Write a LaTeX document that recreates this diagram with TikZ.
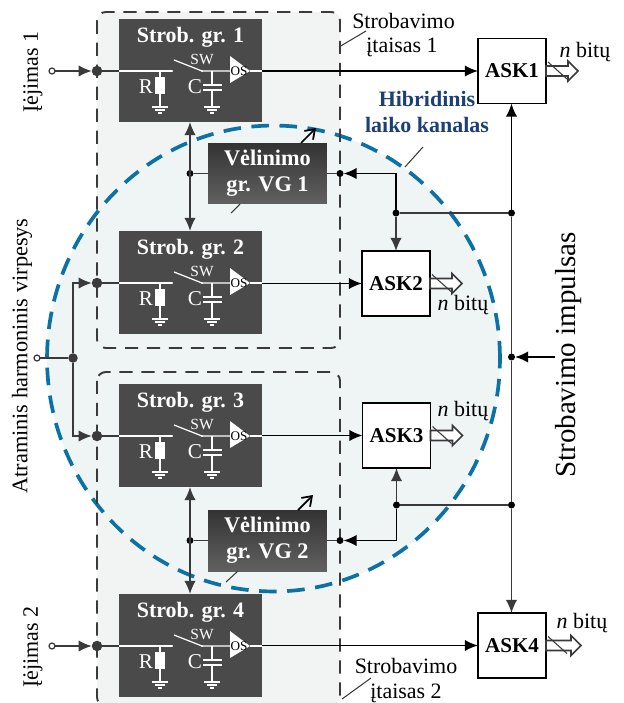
\documentclass[tikz,border=0pt]{standalone}
\usepackage{fontspec}
\setmainfont{Liberation Serif}
\usetikzlibrary{arrows.meta}
\definecolor{boxgray}{HTML}{4A4A4A}
\definecolor{linegray}{HTML}{3A3A3A}
\definecolor{devfill}{HTML}{F2F3F3}
\definecolor{hybfill}{HTML}{EFF4F5}
\definecolor{hybblue}{HTML}{0B72A6}
\definecolor{hybtext}{HTML}{1B3F77}
\tikzset{
  x=0.02cm, y=-0.02cm,
  every node/.style={inner sep=0pt, outer sep=0pt},
  devback/.style={fill=devfill, rounded corners=5pt},
  device/.style={draw=linegray, line width=1.1pt, dash pattern=on 7.5pt off 5pt, rounded corners=5pt},
  hybrid/.style={draw=hybblue, fill=hybfill, line width=2.1pt, dash pattern=on 10pt off 6pt},
  strobbox/.style={draw=none, fill=boxgray, minimum width=2.86cm, minimum height=2.06cm},
  delaybox/.style={draw=none, top color=black!80, bottom color=black!62, minimum width=2.38cm, minimum height=1.22cm, align=center, text=white, font=\fontsize{12.7}{15}\selectfont\bfseries},
  askbox/.style={draw=black, fill=white, line width=0.9pt, minimum width=1.36cm, minimum height=1.3cm, font=\fontsize{12}{13}\selectfont\bfseries},
  wire/.style={draw=linegray, line width=0.9pt},
  sig/.style={draw=black, line width=1pt},
  arr/.style={-{Latex[length=7.5pt,width=6.5pt]}},
  barr/.style={{Latex[length=7.5pt,width=6.5pt]}-{Latex[length=7.5pt,width=6.5pt]}},
  inner/.style={draw=white, line width=0.7pt},
  dotbig/.style={circle, fill=linegray, minimum size=0.21cm},
  dotsmall/.style={circle, fill=black, minimum size=0.14cm},
  opendot/.style={circle, draw=linegray, fill=white, line width=0.7pt, minimum size=0.12cm},
  lbl/.style={font=\fontsize{12.5}{14}\selectfont},
  lead/.style={draw=linegray, line width=0.6pt},
  bits/.style={draw=linegray, fill=white, line width=0.9pt},
}
% one strobing group, #1 name, #2 top of box, #3 number, #4 signal line
\newcommand{\strobgr}[4]{
  \node [strobbox] (#1) at (190.5, #2+51.5) {};
  \node [text=white, font=\fontsize{12.5}{14}\selectfont\bfseries] (#1t) at (190.5, #2+18) {Strob. gr. #3};
  \begin{scope}[yshift={-0.02cm*(#4)}]
    \draw [inner] (#1.west |- 0, 0) -- (172, 0);
    \draw [inner] (174, -11) -- (202, 0) -- (230, 0);
    \fill [white] (172, 0) circle (1.2);
    \fill [white] (202, 0) circle (1.2);
    \draw [inner] (160, 0) -- (160, 35);
    \node [fill=white, minimum width=0.2cm, minimum height=0.34cm] (#1r) at (160, 14.5) {};
    \draw [inner] (212, 0) -- (212, 14) (203, 14) -- (222, 14) (203, 19) -- (222, 19) (212, 19) -- (212, 35);
    \foreach \gx in {160, 212} {
      \draw [inner] (\gx-8, 36) -- (\gx+8, 36) (\gx-5, 39) -- (\gx+5, 39) (\gx-2, 42) -- (\gx+2, 42);
    }
    \node [text=white, font=\fontsize{12}{12}\selectfont] (#1rl) at (146, 15.5) {R};
    \node [text=white, font=\fontsize{12}{12}\selectfont] (#1cl) at (195, 15.5) {C};
    \node [text=white, font=\fontsize{8.8}{10}\selectfont] (#1sw) at (202, -12) {SW};
    \fill [white] (230, -15) -- (250, 0) -- (230, 12) -- cycle;
    \draw [inner] (250, 0) -- (262, 0);
    \node [text=black, font=\fontsize{7.5}{7}\selectfont] (#1os) at (239, 0) {OS};
  \end{scope}
}
% hollow output arrow, #1 name, #2 box, #3 length
\newcommand{\bitarrow}[3]{
  \coordinate (#1) at (#2.east);
  \draw [bits, shift={(#1)}] (0, -5) -- (#3-10, -5) -- (#3-10, -10) -- (#3, 0) -- (#3-10, 10) -- (#3-10, 5) -- (0, 5) -- cycle;
  \draw [lead, shift={(#1)}] (2, -9) -- (21, 8);
}
\begin{document}
\begin{tikzpicture}
  \useasboundingbox (0, 0) rectangle (623, 703);
  \clip (0, 0) rectangle (623, 703);
  \fill [devback] (97, 12) rectangle (340, 348);
  \fill [devback] (97, 372) rectangle (340, 706);
  \draw [hybrid] (273.5, 358.5) ellipse [x radius=4.53cm, y radius=4.66cm];
  \draw [device] (97, 12) rectangle (340, 348);
  \draw [device] (97, 372) rectangle (340, 706);
  \strobgr{sg1}{19}{1}{71}
  \strobgr{sg2}{231}{2}{283}
  \strobgr{sg3}{384}{3}{436}
  \strobgr{sg4}{594}{4}{646}
  \node [delaybox] (vg1) at (267.5, 173.5) {Vėlinimo\\gr. VG 1};
  \node [delaybox] (vg2) at (267.5, 540.5) {Vėlinimo\\gr. VG 2};
  \node [askbox] (ask1) at (512, 71) {ASK1};
  \node [askbox] (ask2) at (396, 283.5) {ASK2};
  \node [askbox] (ask3) at (396.5, 435.5) {ASK3};
  \node [askbox] (ask4) at (512, 645.5) {ASK4};
  % inputs
  \node [opendot] (in1) at (52, 71) {};
  \node [opendot] (in2) at (52, 646) {};
  \node [opendot] (in0) at (37, 358) {};
  \node [dotbig] (j1) at (97, 71) {};
  \node [dotbig] (j2) at (97, 283) {};
  \node [dotbig] (j3) at (97, 436) {};
  \node [dotbig] (j4) at (97, 646) {};
  \node [circle, fill=linegray, minimum size=0.19cm] (j0) at (73, 358) {};
  \coordinate (t2) at (73, 283);
  \coordinate (t3) at (73, 436);
  \draw [wire, arr] (in1) -- (j1);
  \draw [wire, arr] (in2) -- (j4);
  \draw [wire] (in0) -- (j0);
  \draw [wire, arr] (j0) -- (t2) -- (j2);
  \draw [wire, arr] (j0) -- (t3) -- (j3);
  \draw [wire] (j1) -- (sg1.west |- j1);
  \draw [wire] (j2) -- (sg2.west |- j2);
  \draw [wire] (j3) -- (sg3.west |- j3);
  \draw [wire] (j4) -- (sg4.west |- j4);
  % outputs
  \draw [sig, arr] (sg1.east |- ask1) -- (ask1);
  \draw [sig, arr] (sg2.east |- ask2) -- (ask2);
  \draw [sig, arr] (sg3.east |- ask3) -- (ask3);
  \draw [sig, arr] (sg4.east |- ask4) -- (ask4);
  \bitarrow{b1}{ask1}{32}
  \bitarrow{b2}{ask2}{32}
  \bitarrow{b3}{ask3}{32}
  \bitarrow{b4}{ask4}{35}
  % delay groups
  \node [dotsmall] (d1l) at (190, 173.5) {};
  \node [dotsmall] (d1r) at (340, 173.5) {};
  \node [dotsmall] (d2l) at (190, 540.5) {};
  \node [dotsmall] (d2r) at (340, 540.5) {};
  \draw [wire, barr] (sg1.south -| d1l) -- (sg2.north -| d1l);
  \draw [wire, barr] (sg3.south -| d2l) -- (sg4.north -| d2l);
  \draw [wire] (d1l) -- (vg1) -- (d1r);
  \draw [wire] (d2l) -- (vg2) -- (d2r);
  % strobe lines
  \node [dotsmall] (s0) at (511.5, 357) {};
  \node [dotsmall] (s1) at (511.5, 213) {};
  \node [dotsmall] (s2) at (511.5, 505) {};
  \node [dotsmall] (a2) at (396, 213) {};
  \node [dotsmall] (a3) at (396.5, 505) {};
  \coordinate (in5) at (555, 357);
  \coordinate (c1) at (396, 173.5);
  \coordinate (c2) at (396.5, 540.5);
  \draw [sig, arr] (s1) -- (s1 |- ask1.south);
  \draw [wire] (s1) -- (s0) -- (s2);
  \draw [wire, arr] (s2) -- (s2 |- ask4.north);
  \draw [sig, arr] (in5) -- (s0);
  \draw [wire] (s1) -- (a2);
  \draw [wire] (s2) -- (a3);
  \draw [wire, arr] (a2) -- (ask2.north -| a2);
  \draw [wire, arr] (a3) -- (ask3.south -| a3);
  \draw [sig, arr] (a2) -- (c1) -- (d1r);
  \draw [sig, arr] (a3) -- (c2) -- (d2r);
  % pointers
  \draw [sig, -{Straight Barb[length=5pt,width=7pt]}] (301, 143) -- (316, 128);
  \draw [sig, -{Straight Barb[length=5pt,width=7pt]}] (298, 510) -- (313, 495);
  \draw [lead] (231, 213) -- (240, 204);
  \draw [lead] (226, 582) -- (238, 571);
  \draw [lead] (339, 47) -- (366, 31);
  \draw [lead] (405, 167) -- (423, 147);
  \draw [lead] (342, 699) -- (371, 678);
  % labels
  \node [lbl, rotate=90] (l1) at (33, 72) {Įėjimas 1};
  \node [lbl, rotate=90] (l2) at (33, 647) {Įėjimas 2};
  \node [rotate=90, font=\fontsize{12.7}{15}\selectfont] (l0) at (22, 356) {Atraminis harmoninis virpesys};
  \node [rotate=90, font=\fontsize{16.5}{18}\selectfont] (l5) at (569, 355) {Strobavimo impulsas};
  \node [lbl] (t1) at (403.5, 21) {Strobavimo};
  \node [lbl] (t2l) at (402, 47) {įtaisas 1};
  \node [lbl] (t3l) at (406, 666) {Strobavimo};
  \node [lbl] (t4l) at (406, 693) {įtaisas 2};
  \node [text=hybtext, font=\fontsize{12.5}{15.3}\selectfont\bfseries, align=center] (hk) at (427, 112) {Hibridinis\\laiko kanalas};
  \node [lbl] (n1) at (585, 52) {\textit{n} bitų};
  \node [lbl] (n2) at (463, 305) {\textit{n} bitų};
  \node [lbl] (n3) at (463, 411) {\textit{n} bitų};
  \node [lbl] (n4) at (582, 623) {\textit{n} bitų};
\end{tikzpicture}
\end{document}
